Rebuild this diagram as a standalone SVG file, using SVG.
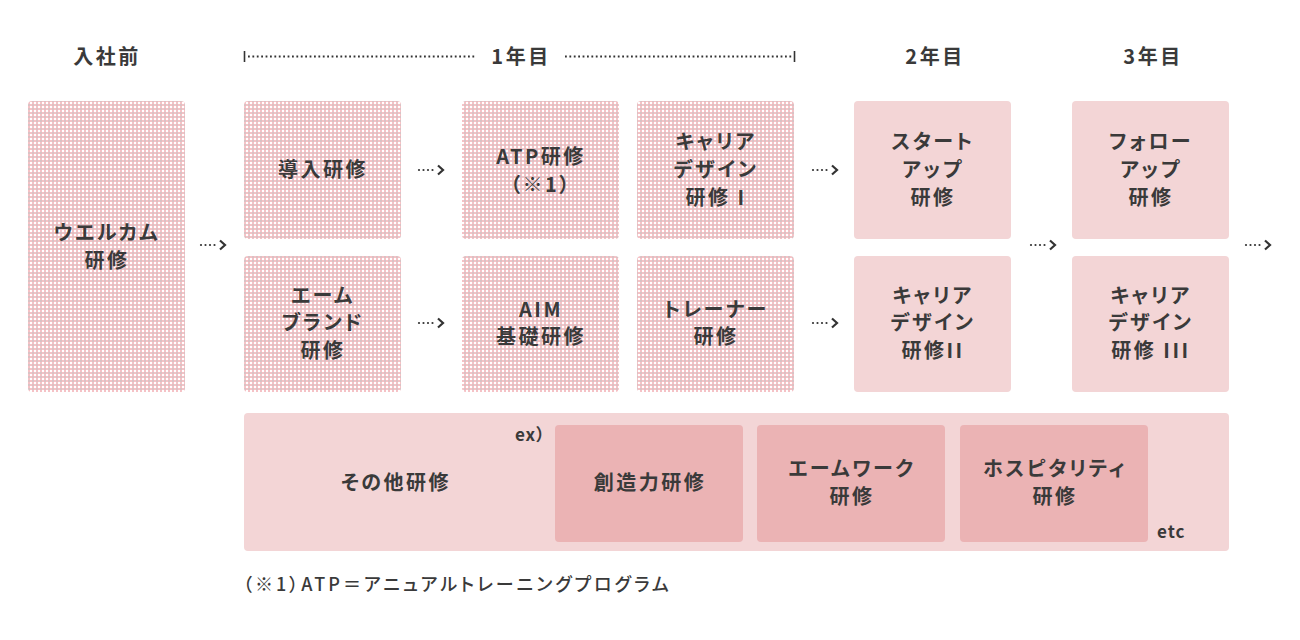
<svg xmlns="http://www.w3.org/2000/svg" width="1300" height="640" viewBox="0 0 1300 640">
<defs>
<pattern id="chk" width="4" height="4" patternUnits="userSpaceOnUse">
<rect width="4" height="4" fill="#f5c2c6"/>
<rect x="0" y="0" width="2" height="2" fill="#d9c2c4"/>
<rect x="2" y="2" width="2" height="2" fill="#ffffff"/>
</pattern>
<g id="arr">
<circle cx="1" cy="0" r="1.1"/>
<circle cx="5.5" cy="0" r="1.1"/>
<circle cx="10" cy="0" r="1.1"/>
<circle cx="14.5" cy="0" r="1.1"/>
<path d="M20 -4.5 L25 0 L20 4.5" fill="none" stroke="#333" stroke-width="2.2"/>
</g>
</defs>
<style>
text{font-family:"Noto Sans CJK JP","Noto Sans",sans-serif;font-weight:700;fill:#3a3a3a;font-size:20px;letter-spacing:2.5px;font-feature-settings:"palt";text-anchor:middle}
.sm{font-size:17px;letter-spacing:1px;text-anchor:start}
.fn{font-size:18px;font-weight:500;letter-spacing:3px;text-anchor:start}
.ck{fill:url(#chk)}
.so{fill:#f3d5d6}
.dk{fill:#ebb3b4}
.dot{stroke:#333;stroke-width:2;stroke-dasharray:1.8 2.6}
</style>
<rect width="1300" height="640" fill="#fff"/>

<g id="header">
<text x="107" y="64">入社前</text>
<line x1="244.5" y1="51" x2="244.5" y2="62" stroke="#333" stroke-width="1.6"/>
<line class="dot" x1="248" y1="56.5" x2="476" y2="56.5"/>
<text x="521" y="64">1年目</text>
<line class="dot" x1="565" y1="56.5" x2="792" y2="56.5"/>
<line x1="794.5" y1="51" x2="794.5" y2="62" stroke="#333" stroke-width="1.6"/>
<text x="935" y="64">2年目</text>
<text x="1153" y="64">3年目</text>
</g>

<g id="welcome"><rect class="ck" x="28" y="101" width="157" height="291" rx="4"/>
<text x="107" y="240">ウエルカム</text><text x="107" y="268">研修</text></g>

<g id="intro"><rect class="ck" x="244" y="101" width="157" height="138" rx="4"/>
<text x="323" y="177">導入研修</text></g>
<g id="atp"><rect class="ck" x="462" y="101" width="157" height="138" rx="4"/>
<text x="541" y="164">ATP研修</text><text x="541" y="192">（※1）</text></g>
<g id="career1"><rect class="ck" x="637" y="101" width="157" height="138" rx="4"/>
<text x="716" y="149">キャリア</text><text x="716" y="177">デザイン</text><text x="716" y="205">研修 I</text></g>
<g id="startup"><rect class="so" x="854" y="101" width="157" height="138" rx="4"/>
<text x="933" y="149">スタート</text><text x="933" y="177">アップ</text><text x="933" y="205">研修</text></g>
<g id="follow"><rect class="so" x="1072" y="101" width="157" height="138" rx="4"/>
<text x="1151" y="149">フォロー</text><text x="1151" y="177">アップ</text><text x="1151" y="205">研修</text></g>

<g id="brand"><rect class="ck" x="244" y="256" width="157" height="136" rx="4"/>
<text x="323" y="303">エーム</text><text x="323" y="330">ブランド</text><text x="323" y="358">研修</text></g>
<g id="aim"><rect class="ck" x="462" y="256" width="157" height="136" rx="4"/>
<text x="541" y="317">AIM</text><text x="541" y="344">基礎研修</text></g>
<g id="trainer"><rect class="ck" x="637" y="256" width="157" height="136" rx="4"/>
<text x="716" y="317">トレーナー</text><text x="716" y="344">研修</text></g>
<g id="career2"><rect class="so" x="854" y="256" width="157" height="136" rx="4"/>
<text x="933" y="303">キャリア</text><text x="933" y="330">デザイン</text><text x="933" y="358">研修II</text></g>
<g id="career3"><rect class="so" x="1072" y="256" width="157" height="136" rx="4"/>
<text x="1151" y="303">キャリア</text><text x="1151" y="330">デザイン</text><text x="1151" y="358">研修 III</text></g>

<g id="other"><rect class="so" x="244" y="413" width="985" height="138" rx="4"/>
<text x="396" y="490">その他研修</text>
<text class="sm" x="515" y="441">ex）</text>
<text class="sm" x="1157" y="538">etc</text></g>
<g id="souzou"><rect class="dk" x="555" y="425" width="188" height="117" rx="4"/>
<text x="650" y="490">創造力研修</text></g>
<g id="aimwork"><rect class="dk" x="757" y="425" width="188" height="117" rx="4"/>
<text x="852" y="476">エームワーク</text><text x="852" y="504">研修</text></g>
<g id="hospitality"><rect class="dk" x="960" y="425" width="188" height="117" rx="4"/>
<text x="1055" y="476">ホスピタリティ</text><text x="1055" y="504">研修</text></g>

<g id="connectors" fill="#333">
<use href="#arr" x="200" y="245"/>
<use href="#arr" x="418" y="170"/>
<use href="#arr" x="418" y="323"/>
<use href="#arr" x="812" y="170"/>
<use href="#arr" x="812" y="323"/>
<use href="#arr" x="1030" y="245"/>
<use href="#arr" x="1245" y="245"/>
</g>

<text class="fn" x="243" y="591">（※1）ATP＝アニュアルトレーニングプログラム</text>
</svg>
